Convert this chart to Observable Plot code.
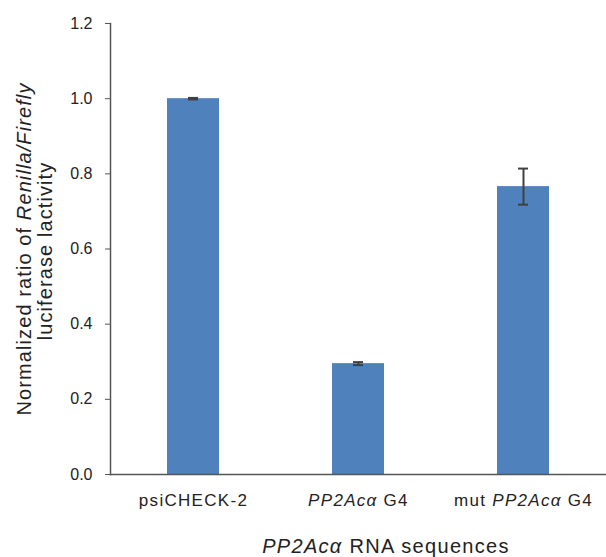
<!DOCTYPE html>
<html>
<head>
<meta charset="utf-8">
<script src="https://cdn.jsdelivr.net/npm/d3@7"></script>
<script src="https://cdn.jsdelivr.net/npm/@observablehq/plot@0.6"></script>
<style>
  html, body { margin: 0; padding: 0; background: #fff; }
  #chart { width: 606px; height: 557px; }
</style>
</head>
<body>
<div id="chart"></div>
<script>
const categories = ["psiCHECK-2", "PP2Acα G4", "mut PP2Acα G4"];
const values = [1.0, 0.295, 0.766];
const errors = [0.002, 0.004, 0.048];
const yTicks = [0, 0.2, 0.4, 0.6, 0.8, 1.0, 1.2];
const xTitle = "PP2Acα RNA sequences";
const yTitle1 = "Normalized ratio of Renilla/Firefly";
const yTitle2 = "luciferase lactivity";

const data = categories.map((c, i) => ({cat: c, v: values[i], e: errors[i]}));

const W = 606, H = 557;
const chart = Plot.plot({
  width: W,
  height: H,
  marginLeft: 110,
  marginRight: 1,
  marginTop: 23,
  marginBottom: 83,
  style: {fontFamily: "'Liberation Sans', Arial, sans-serif", background: "#fff"},
  x: {domain: categories, paddingInner: 0.685, paddingOuter: 0.3425, label: null},
  y: {domain: [0, 1.2], label: null},
  marks: [
    Plot.barY(data, {x: "cat", y: "v", fill: "#4f81bd"}),
    Plot.ruleX(data, {x: "cat", y1: d => d.v - d.e, y2: d => d.v + d.e, stroke: "#404040", strokeWidth: 2}),
    Plot.tickY(data, {x: "cat", y: d => d.v - d.e, stroke: "#404040", strokeWidth: 2, insetLeft: 21, insetRight: 21}),
    Plot.tickY(data, {x: "cat", y: d => d.v + d.e, stroke: "#404040", strokeWidth: 2, insetLeft: 21, insetRight: 21}),
    Plot.axisY({ticks: yTicks, tickFormat: d3.format(".1f"), tickSize: 5, tickPadding: 13, fontSize: 16, color: "#222", stroke: "#555", label: null}),
    Plot.axisX({tickSize: 0, tickPadding: 19, fontSize: 17, color: "#222", label: null}),
    Plot.frame({anchor: "left", stroke: "#555", strokeWidth: 1.5}),
    Plot.frame({anchor: "bottom", stroke: "#555", strokeWidth: 1.5})
  ]
});
document.getElementById("chart").appendChild(chart);

const svg = d3.select(chart);
svg.selectAll('[aria-label="y-axis tick label"]').attr("font-size", 16).attr("fill", "#222");
svg.selectAll('[aria-label="y-axis tick label"] text').attr("font-size", 16);
svg.selectAll('[aria-label="x-axis tick label"]').attr("font-size", 17).attr("fill", "#222");

function fillRich(sel, text) {
  sel.text(null);
  const parts = text.split(/(PP2Acα|Renilla\/Firefly)/);
  parts.forEach(p => {
    if (!p) return;
    const t = sel.append("tspan").text(p);
    if (p === "PP2Acα" || p === "Renilla/Firefly") t.attr("font-style", "italic");
  });
}
svg.selectAll('[aria-label="x-axis tick label"] text').each(function() {
  const s = d3.select(this);
  const txt = s.text();
  s.attr("font-size", 17).attr("letter-spacing", "1.3px");
  fillRich(s, txt);
});

const xt = svg.append("text")
  .attr("x", 386).attr("y", 553)
  .attr("text-anchor", "middle")
  .attr("font-size", 20)
  .attr("letter-spacing", "1.3px")
  .attr("fill", "#222");
fillRich(xt, xTitle);

const yt1 = svg.append("text")
  .attr("transform", "translate(31,249) rotate(-90)")
  .attr("text-anchor", "middle")
  .attr("font-size", 20)
  .attr("letter-spacing", "1.1px")
  .attr("fill", "#222");
fillRich(yt1, yTitle1);
const yt2 = svg.append("text")
  .attr("transform", "translate(52,251) rotate(-90)")
  .attr("text-anchor", "middle")
  .attr("font-size", 20)
  .attr("letter-spacing", "1.1px")
  .attr("fill", "#222");
fillRich(yt2, yTitle2);
</script>
</body>
</html>
